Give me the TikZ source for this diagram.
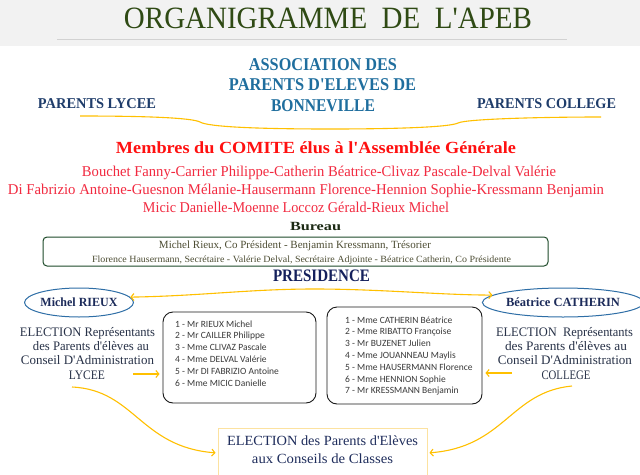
\documentclass[tikz,border=0pt]{standalone}
\usepackage{fontspec}
\usepackage{graphicx}
\setmainfont{Liberation Serif}
\newfontfamily\calibfont{Carlito}
\usetikzlibrary{arrows.meta,shapes.geometric}
\definecolor{bandgray}{HTML}{F2F2F2}
\definecolor{linegray}{HTML}{D2D2D2}
\definecolor{titlegreen}{HTML}{2F4A14}
\definecolor{assocblue}{HTML}{1F6E9E}
\definecolor{parblue}{HTML}{1F3D6B}
\definecolor{comred}{HTML}{FF1010}
\definecolor{namered}{HTML}{F22A40}
\definecolor{bureaudark}{HTML}{1C2A14}
\definecolor{bureaugreen}{HTML}{1E4B2A}
\definecolor{bureautext}{HTML}{4D4D33}
\definecolor{presnavy}{HTML}{14205C}
\definecolor{ellblue}{HTML}{2E6EA6}
\definecolor{elltext}{HTML}{1C2B5A}
\definecolor{electext}{HTML}{283248}
\definecolor{boxtext}{HTML}{3A3A3A}
\definecolor{goldc}{HTML}{FFC000}
\definecolor{palegold}{HTML}{FCE2A0}
\definecolor{bottomtext}{HTML}{1F2D5C}
\newcommand\fw[2]{\resizebox{#1pt}{\height}{#2}}
\newcommand\fsz[1]{\fontsize{#1}{#1}\selectfont}
\newcommand\sq{\textquotesingle}
\tikzset{
  txt/.style={inner sep=0pt, outer sep=0pt, anchor=base},
  boxline/.style={inner sep=0pt, anchor=base west, text=boxtext, font=\calibfont\fsz{9.5}},
  goldline/.style={draw=goldc, line width=1.1pt},
  goldarrow/.style={goldline, -{Straight Barb[length=3pt,width=7pt]}},
  goldboth/.style={goldline, {Straight Barb[length=3pt,width=7pt]}-{Straight Barb[length=3pt,width=7pt]}},
  listbox/.style={draw=black!90, line width=0.9pt, rounded corners=10pt, inner sep=0pt},
  person/.style={ellipse, draw=ellblue, line width=1pt, inner sep=0pt, text=elltext, font=\bfseries\fsz{12.5}}
}
\begin{document}
\begin{tikzpicture}[x=1pt,y=-1pt]
\useasboundingbox (0,0) rectangle (640,474);
\fill[white] (0,0) rectangle (640,474);
% header band
\fill[bandgray] (0,0) rectangle (640,46);
\coordinate (ulA) at (57,39);
\coordinate (ulB) at (567,39);
\draw[linegray, line width=1pt] (ulA) -- (ulB);
\node[txt, text=titlegreen] (title) at (328,28) {\fsz{31}\fw{408}{ORGANIGRAMME\ \ DE\ \ L\sq APEB}};

% association
\node[txt, text=assocblue] (as1) at (323,70) {\bfseries\fsz{18}\fw{148}{ASSOCIATION DES}};
\node[txt, text=assocblue] (as2) at (322.5,90) {\bfseries\fsz{18}\fw{187}{PARENTS D\sq ELEVES DE}};
\node[txt, text=assocblue] (as3) at (323,111) {\bfseries\fsz{18}\fw{104}{BONNEVILLE}};
\node[txt, text=parblue] (lycee) at (97,108) {\bfseries\fsz{15}\fw{118}{PARENTS LYCEE}};
\node[txt, text=parblue] (college) at (546.5,108) {\bfseries\fsz{15}\fw{139}{PARENTS COLLEGE}};

% brace
\coordinate (brL) at (80,116);
\coordinate (brM) at (330,129);
\coordinate (brR) at (601,117);
\draw[goldline] (brL) .. controls (150,116) and (192,118) .. (200,122)
  .. controls (208,127) and (260,129) .. (brM)
  .. controls (400,129) and (450,127) .. (458,123)
  .. controls (466,119) and (540,117) .. (brR);

% comite
\node[txt, text=comred] (comite) at (316,153) {\bfseries\fsz{17}\fw{400}{Membres du COMITE élus à l\sq Assemblée Générale}};
\node[txt, text=namered] (n1) at (319,176) {\fsz{15}\fw{474}{Bouchet Fanny-Carrier Philippe-Catherin Béatrice-Clivaz Pascale-Delval Valérie}};
\node[txt, text=namered] (n2) at (306,194) {\fsz{15}\fw{596}{Di Fabrizio Antoine-Guesnon Mélanie-Hausermann Florence-Hennion Sophie-Kressmann Benjamin}};
\node[txt, text=namered] (n3) at (296,212) {\fsz{15}\fw{306}{Micic Danielle-Moenne Loccoz Gérald-Rieux Michel}};

% bureau
\node[txt, text=bureaudark] (bureau) at (315.5,230) {\bfseries\fsz{12.5}\fw{51}{Bureau}};
\node[draw=bureaugreen, line width=1pt, rounded corners=4pt, minimum width=505pt, minimum height=29pt, inner sep=0pt] (bbox) at (295.5,251.5) {};
\node[txt, text=bureautext] (b1) at (295,248) {\fsz{11}\fw{272}{Michel Rieux, Co Président - Benjamin Kressmann, Trésorier}};
\node[txt, text=bureautext] (b2) at (301.5,262) {\fsz{9.5}\fw{419}{Florence Hausermann, Secrétaire - Valérie Delval, Secrétaire Adjointe - Béatrice Catherin, Co Présidente}};

% presidence
\node[txt, text=presnavy] (pres) at (321.5,281) {\bfseries\fsz{17.5}\fw{97}{PRESIDENCE}};

\node[person, minimum width=101pt, minimum height=29pt] (rieux) at (79,302.5) {\fw{77}{Michel RIEUX}};
\node[person, minimum width=131pt, minimum height=29pt] (cath) at (563,302.5) {\fw{114}{Béatrice CATHERIN}};
\coordinate (pmid) at (314,289);
\draw[goldboth] (rieux.6) .. controls (200,296) and (250,289) .. (pmid)
  .. controls (380,289) and (440,295) .. (cath.174);

% election texts
\node[txt, text=electext] (eL1) at (87.5,336) {\fsz{13}\fw{135}{ELECTION Représentants}};
\node[txt, text=electext] (eL2) at (91,350) {\fsz{13}\fw{116}{des Parents d\sq élèves au}};
\node[txt, text=electext] (eL3) at (87.5,364.5) {\fsz{13}\fw{133}{Conseil D\sq Administration}};
\node[txt, text=electext] (eL4) at (87,379) {\fsz{13}\fw{36}{LYCEE}};

\node[txt, text=electext] (eR1) at (564.5,336) {\fsz{13}\fw{137}{ELECTION\ \ Représentants}};
\node[txt, text=electext] (eR2) at (566,350) {\fsz{13}\fw{122}{des Parents d\sq élèves au}};
\node[txt, text=electext] (eR3) at (565,364.5) {\fsz{13}\fw{134}{Conseil D\sq Administration}};
\node[txt, text=electext] (eR4) at (566,379) {\fsz{13}\fw{49}{COLLEGE}};

% list boxes
\node[listbox, minimum width=153pt, minimum height=91pt] (boxL) at (239.5,357.5) {};
\node[listbox, minimum width=155pt, minimum height=97pt] (boxR) at (404.5,355.5) {};

\foreach \t [count=\i] in {1 - Mr RIEUX Michel, 2 - Mr CAILLER Philippe, 3 - Mme CLIVAZ Pascale, 4 - Mme DELVAL Valérie, 5 - Mr DI FABRIZIO Antoine, 6 - Mme MICIC Danielle}
  \node[boxline] (L\i) at (175,{327+11.8*(\i-1)}) {\t};
\foreach \t [count=\i] in {1 - Mme CATHERIN Béatrice, 2 - Mme RIBATTO Françoise, 3 - Mr BUZENET Julien, 4 - Mme JOUANNEAU Maylis, 5 - Mme HAUSERMANN Florence, 6 - Mme HENNION Sophie, 7 - Mr KRESSMANN Benjamin}
  \node[boxline] (R\i) at (345,{323+11.8*(\i-1)}) {\t};

\coordinate (aL) at (133,374);
\coordinate (aR) at (512,373);
\draw[goldarrow, shorten >=3pt] (aL) -- (boxL.west |- aL);
\draw[goldarrow, shorten >=3pt] (aR) -- (boxR.east |- aR);

% bottom box
\node[draw=palegold, line width=1pt, minimum width=209pt, minimum height=49pt, inner sep=0pt, anchor=north] (bottom) at (322.5,428) {};
\node[txt, text=bottomtext] (bt1) at (322.5,445) {\fsz{14}\fw{191}{ELECTION des Parents d\sq Elèves}};
\node[txt, text=bottomtext] (bt2) at (322.5,463) {\fsz{14}\fw{141}{aux Conseils de Classes}};

\coordinate (cL) at (72,387);
\coordinate (cR) at (572,386);
\draw[goldarrow, shorten >=2pt] (cL) .. controls (135,390) and (140,447) .. (bottom.west);
\draw[goldarrow, shorten >=2pt] (cR) .. controls (510,392) and (505,447) .. (bottom.east);
\end{tikzpicture}
\end{document}
